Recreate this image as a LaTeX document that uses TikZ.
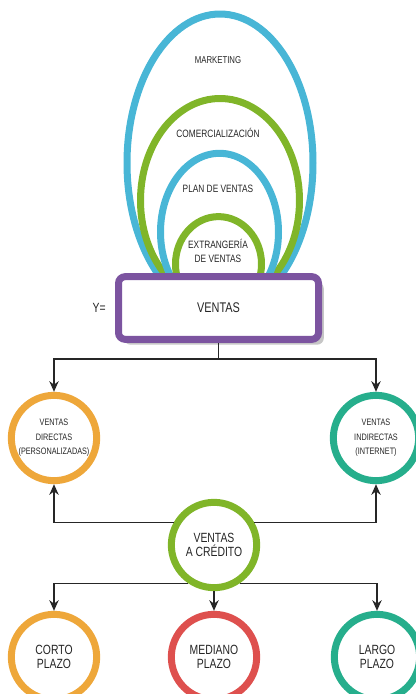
\documentclass[tikz,border=0pt]{standalone}
\usepackage{fontspec}
\setmainfont{Liberation Sans}[FakeStretch=0.78]
\usetikzlibrary{arrows.meta, positioning, calc, shadows}
\definecolor{ringblue}{RGB}{72,182,214}
\definecolor{ringgreen}{RGB}{128,181,41}
\definecolor{boxpurple}{RGB}{124,84,160}
\definecolor{ringorange}{RGB}{238,167,58}
\definecolor{ringred}{RGB}{222,80,78}
\definecolor{ringteal}{RGB}{38,174,140}

\begin{document}
\begin{tikzpicture}[
                x=0.75pt, y=-0.75pt,
                egg/.style={line width=5.25pt},
                tag/.style={font=\fontsize{7.5}{11}\selectfont, text=black!85, align=center},
                mainbox/.style={rectangle, draw=boxpurple, fill=white, line width=5.25pt, rounded corners=5pt, minimum width=150pt, minimum height=47pt, font=\fontsize{10.5}{12}\selectfont, text=black!85, drop shadow={shadow xshift=4pt, shadow yshift=-4pt, opacity=0.45}},
                ring/.style={circle, fill=white, line width=5.25pt, minimum size=64pt, inner sep=0pt, align=center, text=black!85, font=\fontsize{10}{10.5}\selectfont},
                small/.style={font=\fontsize{7}{11}\selectfont},
                link/.style={-{Stealth[length=8pt, width=7pt]}, line width=1.1pt, black!85}
            ]
                \useasboundingbox (0,0) rectangle (416,694);
                \clip (0,0) rectangle (416,694);

                % nested levels above the box
                \draw[egg, ringblue] (220,163) ellipse [x radius=93, y radius=149];
                \draw[egg, ringgreen] (220,200.5) ellipse [x radius=79.5, y radius=102];
                \draw[egg, ringblue] (219.5,232) ellipse [x radius=59, y radius=78.7];
                \draw[egg, ringgreen] (218.5,264) ellipse [x radius=43, y radius=47.4];

                \node[tag] (marketing) at (218,60) {MARKETING};
                \node[tag, font=\fontsize{8}{11}\selectfont] (comercial) at (218,133) {COMERCIALIZACIÓN};
                \node[tag, font=\fontsize{8}{11}\selectfont] (plan) at (218,189) {PLAN DE VENTAS};
                \node[tag, font=\fontsize{8}{11}\selectfont] (extra) at (218,251) {EXTRANGERÍA\\DE VENTAS};

                \node[mainbox] (ventas) at (218.5,308) {VENTAS};
                \node[tag, font=\fontsize{10}{12}\selectfont, left=3.5pt of ventas] (yeq) {Y=};

                \node[ring, draw=ringorange, small] (directas) at (54,438) {VENTAS\\DIRECTAS\\(PERSONALIZADAS)};
                \node[ring, draw=ringteal, small] (indirectas) at (376,438) {VENTAS\\INDIRECTAS\\(INTERNET)};
                \node[ring, draw=ringgreen] (credito) at (214,545) {VENTAS\\A CRÉDITO};
                \node[ring, draw=ringorange] (corto) at (54,657) {CORTO\\PLAZO};
                \node[ring, draw=ringred] (mediano) at (214,657) {MEDIANO\\PLAZO};
                \node[ring, draw=ringteal] (largo) at (377,657) {LARGO\\PLAZO};

                \coordinate (split) at ($(ventas.south)+(0,16)$);
                \draw[line width=1.1pt, black!85] (ventas.south) -- (split);
                \draw[link] (split) -| (directas);
                \draw[link] (split) -| (indirectas);

                \draw[link] (credito.151) -| (directas);
                \draw[link] (credito.29) -| (indirectas);
                \draw[link] (credito.236) -| (corto);
                \draw[link] (credito.304) -| (largo);
                \draw[link] (credito) -- (mediano);
            \end{tikzpicture}
\end{document}
